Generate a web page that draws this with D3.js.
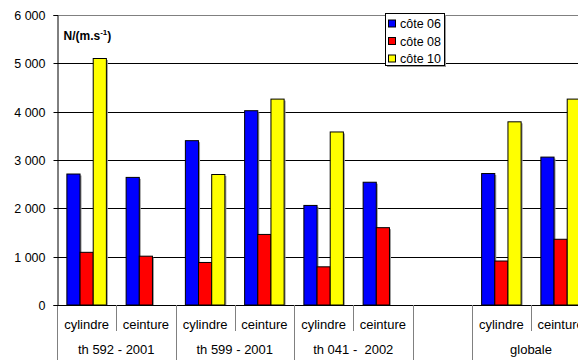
<!DOCTYPE html>
<html>
<head>
<meta charset="utf-8">
<script src="https://cdn.jsdelivr.net/npm/d3@7/dist/d3.min.js"></script>
<style>
  html, body { margin: 0; padding: 0; background: #fff; }
  svg { display: block; font-family: Arial, "Liberation Sans", sans-serif; }
  text { white-space: pre; }
</style>
</head>
<body>
<svg id="chart" width="578" height="360"></svg>
<script>
// Sub-categories along the x axis (one empty slot separates the series from "globale")
const categories = ["cylindre", "ceinture", "cylindre", "ceinture", "cylindre", "ceinture", "", "cylindre", "ceinture"];
// Group labels and how many sub-categories each one spans
const groupLabels = ["th 592 - 2001", "th 599 - 2001", "th 041 -  2002", "", "globale"];
const groupSpans = [2, 2, 2, 1, 2];

// Series
const seriesNames = ["côte 06", "côte 08", "côte 10"];
const cote06 = [2710, 2640, 3400, 4020, 2060, 2540, null, 2720, 3060];
const cote08 = [1090, 1010, 880, 1460, 790, 1600, null, 910, 1360];
const cote10 = [5100, null, 2700, 4260, 3580, null, null, 3790, 4260];
const seriesColors = ["#0000ff", "#ff0000", "#ffff00"];

// Value axis
const yTicks = [0, 1000, 2000, 3000, 4000, 5000, 6000];
const yMax = 6000;

const seriesValues = [cote06, cote08, cote10];

const svg = d3.select("#chart");
const plotLeft = 57, plotTop = 15, plotBottom = 305;
const slot = 59.25;
const plotRight = plotLeft + slot * categories.length;

const x = d3.scaleBand().domain(d3.range(categories.length)).range([plotLeft, plotRight]).padding(0);
const xs = d3.scaleBand().domain(d3.range(seriesNames.length)).range([0, x.bandwidth()])
  .paddingInner(0).paddingOuter(0.75);
const y = d3.scaleLinear().domain([0, yMax]).range([plotBottom, plotTop]);

const fmt = d3.formatLocale({ decimal: ",", thousands: "\u00a0", grouping: [3], currency: ["", " €"] }).format(",d");

// Gridlines
svg.append("g").selectAll("line")
  .data(yTicks.filter(t => t > 0 && t < yMax))
  .join("line")
  .attr("x1", plotLeft).attr("x2", plotRight)
  .attr("y1", d => Math.round(y(d)) + 0.5).attr("y2", d => Math.round(y(d)) + 0.5)
  .attr("stroke", "#000").attr("stroke-width", 1);

// Plot frame (top edge)
svg.append("line")
  .attr("x1", plotLeft).attr("x2", plotRight)
  .attr("y1", Math.round(y(yMax)) + 0.5).attr("y2", Math.round(y(yMax)) + 0.5)
  .attr("stroke", "#808080");

// Bars
const bars = [];
categories.forEach((c, i) => {
  seriesValues.forEach((vals, s) => {
    if (vals[i] != null) bars.push({ i, s, v: vals[i] });
  });
});
const barG = svg.append("g");
// soft shadow
barG.selectAll("rect.shadow").data(bars).join("rect")
  .attr("class", "shadow")
  .attr("x", d => x(d.i) + xs(d.s) + 1.5)
  .attr("y", d => y(d.v) + 1.5)
  .attr("width", xs.bandwidth())
  .attr("height", d => plotBottom - y(d.v) - 1.5)
  .attr("fill", "#9a9a9a");
barG.selectAll("rect.bar").data(bars).join("rect")
  .attr("class", "bar")
  .attr("x", d => x(d.i) + xs(d.s))
  .attr("y", d => y(d.v))
  .attr("width", xs.bandwidth())
  .attr("height", d => plotBottom - y(d.v))
  .attr("fill", d => seriesColors[d.s])
  .attr("stroke", "#000").attr("stroke-width", 1);

// Y axis
const yAxis = d3.axisLeft(y).tickValues(yTicks).tickSize(4).tickPadding(8).tickFormat(d => fmt(d));
const yg = svg.append("g").attr("transform", `translate(${plotLeft + 0.5},0)`).call(yAxis);
yg.select(".domain").attr("stroke", "#000");
yg.selectAll(".tick line").attr("stroke", "#000");
yg.selectAll(".tick text").attr("font-size", 12.5).attr("fill", "#000").attr("font-family", "Arial, 'Liberation Sans', sans-serif");
yg.selectAll(".tick").attr("transform", d => `translate(0,${Math.round(y(d)) + 0.5})`);

// Left border continuing below the axis into the label area
svg.append("line").attr("x1", plotLeft + 0.5).attr("x2", plotLeft + 0.5)
  .attr("y1", plotBottom).attr("y2", 360).attr("stroke", "#808080");

// X axis baseline
svg.append("line").attr("x1", plotLeft).attr("x2", plotRight)
  .attr("y1", plotBottom + 0.5).attr("y2", plotBottom + 0.5)
  .attr("stroke", "#000").attr("stroke-width", 1.2);

// Group boundaries
const groupBounds = [];
let acc = 0;
groupSpans.forEach((n, g) => {
  groupBounds.push({ start: acc, end: acc + n, label: groupLabels[g] });
  acc += n;
});
const groupEdges = new Set(groupBounds.map(g => g.end));

// Sub-category separators (short) and group separators (full height)
svg.append("g").selectAll("line")
  .data(d3.range(1, categories.length + 1))
  .join("line")
  .attr("x1", d => Math.round(x(0) + d * x.step()) + 0.5)
  .attr("x2", d => Math.round(x(0) + d * x.step()) + 0.5)
  .attr("y1", plotBottom)
  .attr("y2", d => groupEdges.has(d) ? 360 : 331)
  .attr("stroke", "#808080");

// Sub-category labels
svg.append("g").selectAll("text")
  .data(categories)
  .join("text")
  .attr("x", (d, i) => x(i) + x.bandwidth() / 2)
  .attr("y", 329)
  .attr("text-anchor", "middle")
  .attr("font-size", 13)
  .attr("fill", "#000")
  .text(d => d);

// Group labels
svg.append("g").selectAll("text")
  .data(groupBounds)
  .join("text")
  .attr("x", d => x(0) + (d.start + d.end) / 2 * x.step())
  .attr("y", 354)
  .attr("text-anchor", "middle")
  .attr("font-size", 13)
  .attr("fill", "#000")
  .text(d => d.label);

// Unit label
const unit = svg.append("text").attr("x", 63.5).attr("y", 40)
  .attr("font-size", 12).attr("font-weight", "bold").attr("fill", "#000");
unit.append("tspan").text("N/(m.s");
unit.append("tspan").attr("font-size", 8).attr("dy", -5).text("-1");
unit.append("tspan").attr("dy", 5).text(")");

// Legend
const lg = svg.append("g").attr("transform", "translate(385.5,13.5)");
lg.append("rect").attr("x", 1.5).attr("y", 1.5).attr("width", 59).attr("height", 52).attr("fill", "#9a9a9a");
lg.append("rect").attr("width", 59).attr("height", 52).attr("fill", "#fff").attr("stroke", "#000");
seriesNames.forEach((name, s) => {
  const cy = 10 + s * 17.5;
  lg.append("rect").attr("x", 3).attr("y", cy - 3.5).attr("width", 7).attr("height", 7)
    .attr("fill", seriesColors[s]).attr("stroke", "#000");
  lg.append("text").attr("x", 14.5).attr("y", cy + 4.5).attr("font-size", 12.5).attr("fill", "#000").text(name);
});
</script>
</body>
</html>
